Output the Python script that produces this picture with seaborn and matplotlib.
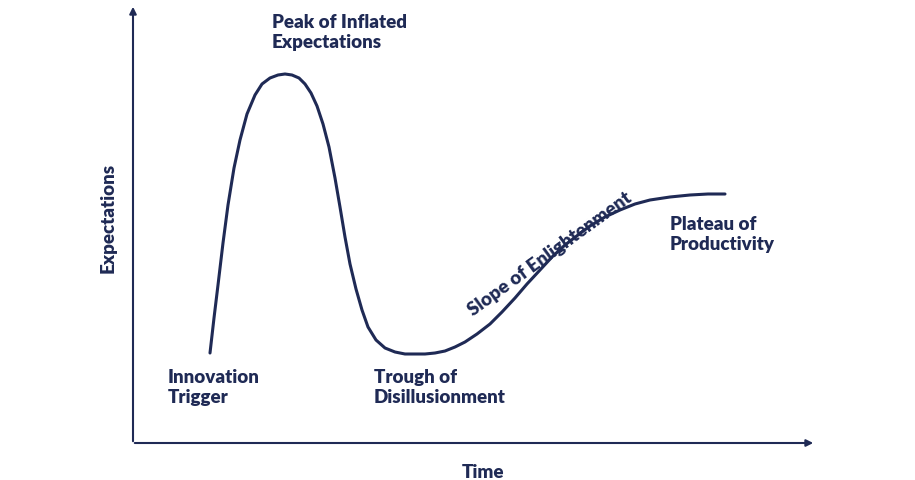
import matplotlib
matplotlib.use("Agg")
import matplotlib.pyplot as plt
import seaborn as sns
import pandas as pd

# curve (x = time, y = expectations, picture units)
time = [210, 214, 218, 223, 228, 234, 240, 247, 255, 262, 270, 278, 285, 292, 299, 305,
        311, 317, 323, 329, 335, 340, 345, 350, 356, 362, 368, 376, 385, 395, 405, 415,
        425, 435, 445, 455, 465, 477, 490, 502, 515, 527, 540, 552, 565, 578, 590, 605,
        620, 635, 650, 670, 690, 708, 725]
pix_y = [353, 318, 285, 243, 205, 168, 140, 114, 95, 84, 78, 75, 74, 75, 78, 84,
         93, 106, 124, 147, 178, 207, 237, 264, 289, 310, 327, 340, 348, 352, 354, 354,
         354, 353, 351, 347, 342, 334, 324, 312, 298, 284, 270, 257, 245, 235, 226, 217,
         210, 204, 200, 197, 195, 194, 194]
expect = [480 - v for v in pix_y]

labels = ["Peak of Inflated\nExpectations", "Innovation\nTrigger", "Trough of\nDisillusionment",
          "Plateau of\nProductivity"]
label_x = [272, 168, 374, 670]
label_y = [466, 111, 111, 264]

navy = "#1f2a55"
sns.set_style("white")
plt.rcParams["font.family"] = ["Lato", "DejaVu Sans"]

fig = plt.figure(figsize=(9.15, 4.8), dpi=100)
ax = fig.add_axes([0, 0, 1, 1])
df = pd.DataFrame({"time": time, "expect": expect})
sns.lineplot(data=df, x="time", y="expect", color=navy, lw=2.2, sort=False, ax=ax)
ax.set_xlim(0, 915)
ax.set_ylim(0, 480)
ax.axis("off")

# axes with arrows
ax.annotate("", xy=(133, 476), xytext=(133, 36),
            arrowprops=dict(arrowstyle="-|>", color=navy, lw=1.5, mutation_scale=10))
ax.annotate("", xy=(816, 37), xytext=(132, 37),
            arrowprops=dict(arrowstyle="-|>", color=navy, lw=1.5, mutation_scale=10))

fs = 13.5
for t, x, y in zip(labels, label_x, label_y):
    ax.text(x, y, t, color=navy, fontsize=fs, fontweight="heavy", ha="left", va="top",
            linespacing=1.2)
ax.text(550, 226, "Slope of Enlightenment", color=navy, fontsize=fs, fontweight="heavy",
        rotation=36, ha="center", va="center", rotation_mode="anchor")
ax.text(108, 262, "Expectations", color=navy, fontsize=fs, fontweight="heavy",
        rotation=90, ha="center", va="center")
ax.text(483, 8, "Time", color=navy, fontsize=fs, fontweight="heavy", ha="center", va="center")

fig.savefig("out.png", dpi=100)
